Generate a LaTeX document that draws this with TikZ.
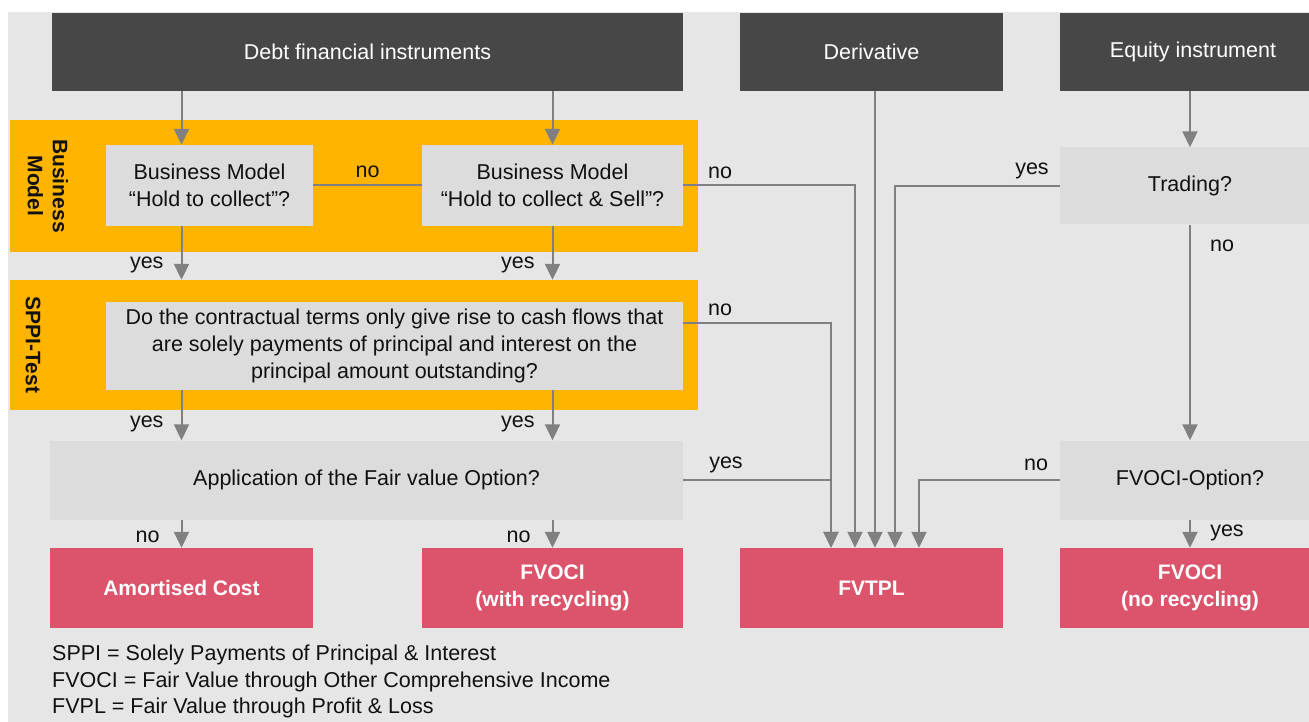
\documentclass[tikz,border=0pt]{standalone}
\usepackage{fontspec}
\setmainfont{Liberation Sans}
\usetikzlibrary{arrows.meta,calc}
\definecolor{bgc}{HTML}{E6E6E6}
\definecolor{boxc}{HTML}{DCDCDC}
\definecolor{darkc}{HTML}{474747}
\definecolor{orangec}{HTML}{FFB500}
\definecolor{redc}{HTML}{DB546B}
\definecolor{linec}{HTML}{808080}
\definecolor{txtc}{HTML}{111111}
\begin{document}
\begin{tikzpicture}[x=1pt,y=-1pt,
  every node/.style={font=\fontsize{21.5}{27}\selectfont},
  header/.style={fill=darkc,text=white,minimum height=78pt,inner sep=0pt,align=center},
  qbox/.style={fill=boxc,text=txtc,inner sep=0pt,align=center},
  band/.style={fill=orangec,inner sep=0pt},
  result/.style={fill=redc,text=white,minimum height=80pt,inner sep=0pt,align=center,font=\fontsize{21}{27}\selectfont\bfseries},
  side/.style={text=txtc,align=center,rotate=-90,inner sep=0pt,font=\fontsize{21}{25}\selectfont\bfseries},
  lbl/.style={text=txtc,inner sep=0pt},
  conn/.style={draw=linec,line width=2pt},
  arr/.style={conn,-{Triangle[width=15pt,length=16pt]}}]
\useasboundingbox (0,0) rectangle (1309,722);
\clip (0,0) rectangle (1309,722);
\fill[white] (0,0) rectangle (1309,722);
\fill[bgc] (8,12) rectangle (1309,722);

% headers
\node[header,minimum width=631pt] (debt) at (367.5,52) {Debt financial instruments};
\node[header,minimum width=263pt] (deriv) at (871.5,52) {Derivative};
\node[header,minimum width=266pt] (equity) at (1193,52) {Equity instrument};

% bands
\node[band,minimum width=688pt,minimum height=132pt] (band1) at (354,186) {};
\node[band,minimum width=688pt,minimum height=130pt] (band2) at (354,345) {};
\node[side] (bmlab) at (48,186) {Business\\Model};
\node[side] (spplab) at (33,345) {SPPI-Test};

% question boxes
\node[qbox,minimum width=207pt,minimum height=81pt] (bm1) at (209.5,185.5) {Business Model\\“Hold to collect”?};
\node[qbox,minimum width=261pt,minimum height=81pt] (bm2) at (552.5,185.5) {Business Model\\“Hold to collect \& Sell”?};
\node[qbox,minimum width=577pt,minimum height=88pt,font=\fontsize{21.5}{27}\selectfont] (sppi) at (394.5,346) {Do the contractual terms only give rise to cash flows that\\are solely payments of principal and interest on the\\principal amount outstanding?};
\node[qbox,minimum width=633pt,minimum height=79pt] (fvo) at (366.5,480) {Application of the Fair value Option?};
\node[qbox,minimum width=260pt,minimum height=77pt] (trading) at (1190,186) {Trading?};
\node[qbox,minimum width=260pt,minimum height=79pt] (fvoopt) at (1190,480) {FVOCI-Option?};

% results
\node[result,minimum width=263pt] (am) at (181.5,588) {Amortised Cost};
\node[result,minimum width=261pt] (fvoci1) at (552.5,588) {FVOCI\\(with recycling)};
\node[result,minimum width=263pt] (fvtpl) at (871.5,588) {FVTPL};
\node[result,minimum width=260pt] (fvoci2) at (1190,588) {FVOCI\\(no recycling)};

% entry points on FVTPL
\coordinate (t1) at ($(fvtpl.north)+(-40.5,0)$);
\coordinate (t2) at ($(fvtpl.north)+(-16.5,0)$);
\coordinate (t3) at ($(fvtpl.north)+(3.5,0)$);
\coordinate (t4) at ($(fvtpl.north)+(23.5,0)$);
\coordinate (t5) at ($(fvtpl.north)+(47.5,0)$);

% debt branch
\draw[arr] (debt.south -| am.north) -- (bm1.north -| am.north);
\draw[arr] (debt.south -| fvoci1.north) -- (bm2.north -| fvoci1.north);
\draw[conn] (bm1.east) -- (bm2.west) node[lbl,midway,above=7pt] (nobm) {no};
\draw[arr] (bm1.south -| am.north) -- (band2.north -| am.north) node[lbl,pos=0.72,left=17pt] (y1) {yes};
\draw[arr] (bm2.south -| fvoci1.north) -- (band2.north -| fvoci1.north) node[lbl,pos=0.72,left=17pt] (y2) {yes};
\draw[arr] (sppi.south -| am.north) -- (fvo.north -| am.north) node[lbl,pos=0.68,left=17pt] (y3) {yes};
\draw[arr] (sppi.south -| fvoci1.north) -- (fvo.north -| fvoci1.north) node[lbl,pos=0.68,left=17pt] (y4) {yes};
\draw[arr] (fvo.south -| am.north) -- (am.north) node[lbl,pos=0.6,left=21pt] (n1) {no};
\draw[arr] (fvo.south -| fvoci1.north) -- (fvoci1.north) node[lbl,pos=0.6,left=21pt] (n2) {no};

% to FVTPL
\draw[arr] (bm2.east) -| (t2);
\node[lbl] (nobm2) at (720,173) {no};
\coordinate (sppiout) at ($(sppi.north east)+(0,21)$);
\draw[arr] (sppiout) -| (t1);
\node[lbl] (nosppi) at (720,310) {no};
\draw[arr] (fvo.east) -| (t1);
\node[lbl] (yesfvo) at (726,465) {yes};
\draw[arr] (deriv.south -| t3) -- (t3);
\draw[arr] (trading.west) -| (t4);
\node[lbl] (yestr) at (1032,171) {yes};
\draw[arr] (fvoopt.west) -| (t5);
\node[lbl] (nofo) at (1036,465) {no};

% equity branch
\draw[arr] (trading.north |- equity.south) -- (trading.north);
\draw[arr] (trading.south) -- (fvoopt.north);
\node[lbl] (notr) at (1222,246) {no};
\draw[arr] (fvoopt.south) -- (fvoci2.north);
\node[lbl] (yesfo) at (1227,533) {yes};

% legend
\node[lbl,anchor=west] (leg1) at (52,655) {SPPI = Solely Payments of Principal \& Interest};
\node[lbl,anchor=west] (leg2) at (52,682) {FVOCI = Fair Value through Other Comprehensive Income};
\node[lbl,anchor=west] (leg3) at (52,708) {FVPL = Fair Value through Profit \& Loss};
\end{tikzpicture}
\end{document}
